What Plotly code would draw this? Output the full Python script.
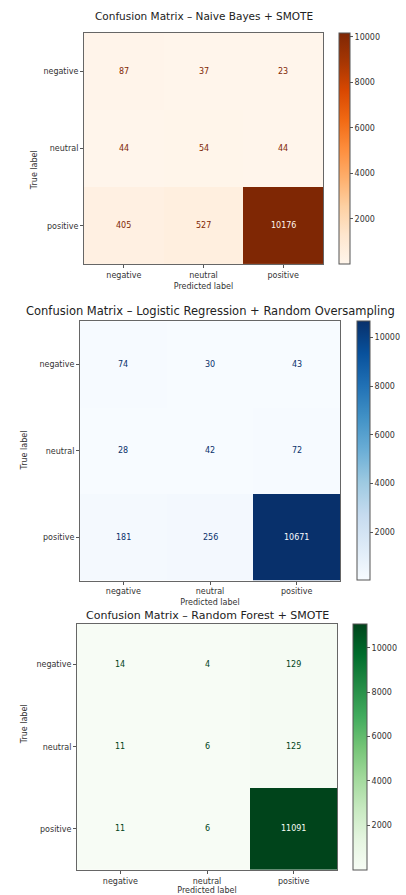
import plotly.graph_objects as go
import plotly.colors as pc

labels = ["negative", "neutral", "positive"]

titles = [
    "Confusion Matrix – Naive Bayes + SMOTE",
    "Confusion Matrix – Logistic Regression + Random Oversampling",
    "Confusion Matrix – Random Forest + SMOTE",
]

nb_smote = [[87, 37, 23], [44, 54, 44], [405, 527, 10176]]
lr_ros = [[74, 30, 43], [28, 42, 72], [181, 256, 10671]]
rf_smote = [[14, 4, 129], [11, 6, 125], [11, 6, 11091]]

matrices = [nb_smote, lr_ros, rf_smote]
cmaps = ["Oranges", "Blues", "Greens"]

W, H = 406, 895
# layout boxes in pixels: (x0, x1, y0_top, y1_bottom, cbar_x0, cbar_w, ytitle_x, title_y, title_size)
boxes = [
    (84, 323, 33, 265, 339, 11, 28, 16, 10.5),
    (80, 340, 322, 582, 357, 13, 18, 312, 11.5),
    (77, 337, 625, 872, 353, 14, 18, 617, 11),
]

FONT = "DejaVu Sans"
fig = go.Figure()
annotations = []

for i, (m, cmap, title, box) in enumerate(zip(matrices, cmaps, titles, boxes)):
    x0, x1, yt, yb, cbx, cbw, ytx, ty, tsz = box
    sfx = "" if i == 0 else str(i + 1)
    flat = [v for row in m for v in row]
    zmin, zmax = min(flat), max(flat)
    scale = pc.get_colorscale(cmap)
    fig.add_trace(go.Heatmap(
        z=m, x=labels, y=labels,
        coloraxis="coloraxis" + sfx,
        xaxis="x" + sfx, yaxis="y" + sfx,
        hoverinfo="skip",
    ))
    fig.layout["coloraxis" + sfx] = dict(
        colorscale=cmap, cmin=zmin, cmax=zmax,
        colorbar=dict(
            x=cbx / W, xanchor="left", xpad=0,
            y=1 - yt / H, yanchor="top", ypad=0,
            len=(yb - yt) / H, lenmode="fraction",
            thickness=cbw, thicknessmode="pixels",
            outlinewidth=1, outlinecolor="#555",
            tickmode="linear", tick0=0, dtick=2000, tickformat="d",
            ticks="outside", ticklen=3, tickcolor="#555",
            tickfont=dict(family=FONT, size=8, color="#333"),
        ),
    )
    thresh = (zmin + zmax) / 2
    dark = pc.sample_colorscale(scale, [1.0])[0]
    light = pc.sample_colorscale(scale, [0.0])[0]
    for r, rl in enumerate(labels):
        for c, cl in enumerate(labels):
            v = m[r][c]
            annotations.append(dict(
                x=cl, y=rl, xref="x" + sfx, yref="y" + sfx,
                text=str(v), showarrow=False,
                font=dict(family=FONT, size=8, color=light if v > thresh else dark),
            ))
    axis_common = dict(
        showline=True, mirror=True, linecolor="#666", linewidth=1,
        ticks="outside", ticklen=3, tickcolor="#555",
        tickfont=dict(family=FONT, size=8, color="#333"),
        showgrid=False, zeroline=False,
    )
    fig.layout["xaxis" + sfx] = dict(
        domain=[x0 / W, x1 / W], anchor="y" + sfx,
        title=dict(text="Predicted label", font=dict(family=FONT, size=8, color="#333"), standoff=4),
        **axis_common,
    )
    fig.layout["yaxis" + sfx] = dict(
        domain=[1 - yb / H, 1 - yt / H], anchor="x" + sfx, autorange="reversed",
        **axis_common,
    )
    annotations.append(dict(
        x=((x0 + x1) / 2) / W, y=1 - ty / H, xref="paper", yref="paper",
        text=title, showarrow=False, yanchor="middle",
        font=dict(family=FONT, size=tsz, color="#222"),
    ))
    annotations.append(dict(
        x=ytx / W, y=1 - ((yt + yb) / 2) / H, xref="paper", yref="paper",
        text="True label", showarrow=False, textangle=-90,
        font=dict(family=FONT, size=8, color="#333"),
    ))

fig.update_layout(
    width=W, height=H,
    margin=dict(l=0, r=0, t=0, b=0),
    paper_bgcolor="white", plot_bgcolor="white",
    annotations=annotations,
    showlegend=False,
)

fig.write_html("out.html")
